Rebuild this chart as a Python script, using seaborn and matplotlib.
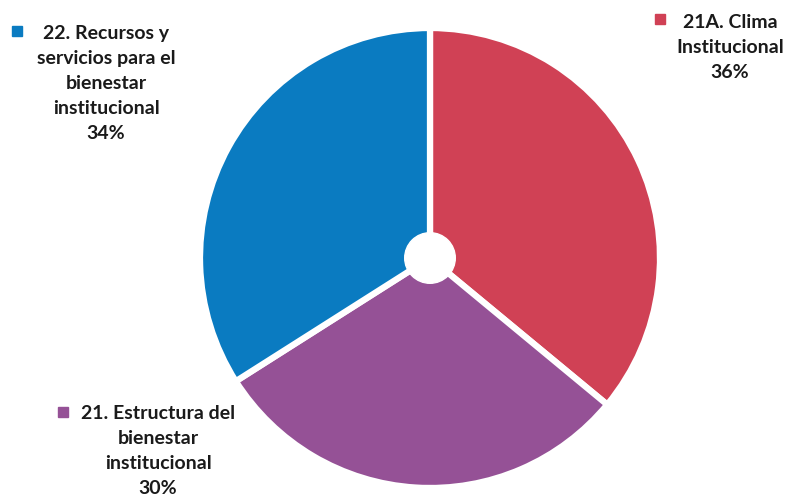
import matplotlib.pyplot as plt
import seaborn as sns
from matplotlib.patches import Rectangle, Circle

sns.set_theme(style='white')
plt.rcParams['font.family'] = ['Lato', 'DejaVu Sans']

categories = ['21A. Clima\nInstitucional', '21. Estructura del\nbienestar\ninstitucional',
              '22. Recursos y\nservicios para el\nbienestar\ninstitucional']
values = [36, 30, 34]
colors = ['#D04155', '#955196', '#0A7BC1']

W, H = 790, 499
fig = plt.figure(figsize=(W / 100, H / 100), dpi=100)
ax = fig.add_axes([(430 - 230) / W, (H - 258 - 230) / H, 460 / W, 460 / H])

ax.pie(values, colors=colors, startangle=90, counterclock=False, radius=1,
       wedgeprops=dict(edgecolor='white', linewidth=4.5))
ax.add_patch(Circle((0, 0), 0.11, color='white', zorder=5))
ax.set_xlim(-1, 1)
ax.set_ylim(-1, 1)
ax.set_aspect('equal')
ax.axis('off')

# text centre x, first line centre y, marker x, marker y (pixels)
label_pos = [(730, 21, 660, 19), (158, 412, 63, 412), (106, 32, 17, 31)]
line_step = 25
for cat, val, col, (cx, ty, mx, my) in zip(categories, values, colors, label_pos):
    lines = cat.split('\n') + [f'{val}%']
    for i, line in enumerate(lines):
        y = ty + i * line_step + 7
        fig.text(cx / W, 1 - y / H, line, ha='center', va='baseline',
                 fontsize=14, fontweight='bold', color='#1a1a1a')
    fig.add_artist(Rectangle(((mx - 5) / W, 1 - (my + 5) / H), 10 / W, 10 / H,
                             transform=fig.transFigure, color=col))

fig.savefig('out.png', dpi=100)
